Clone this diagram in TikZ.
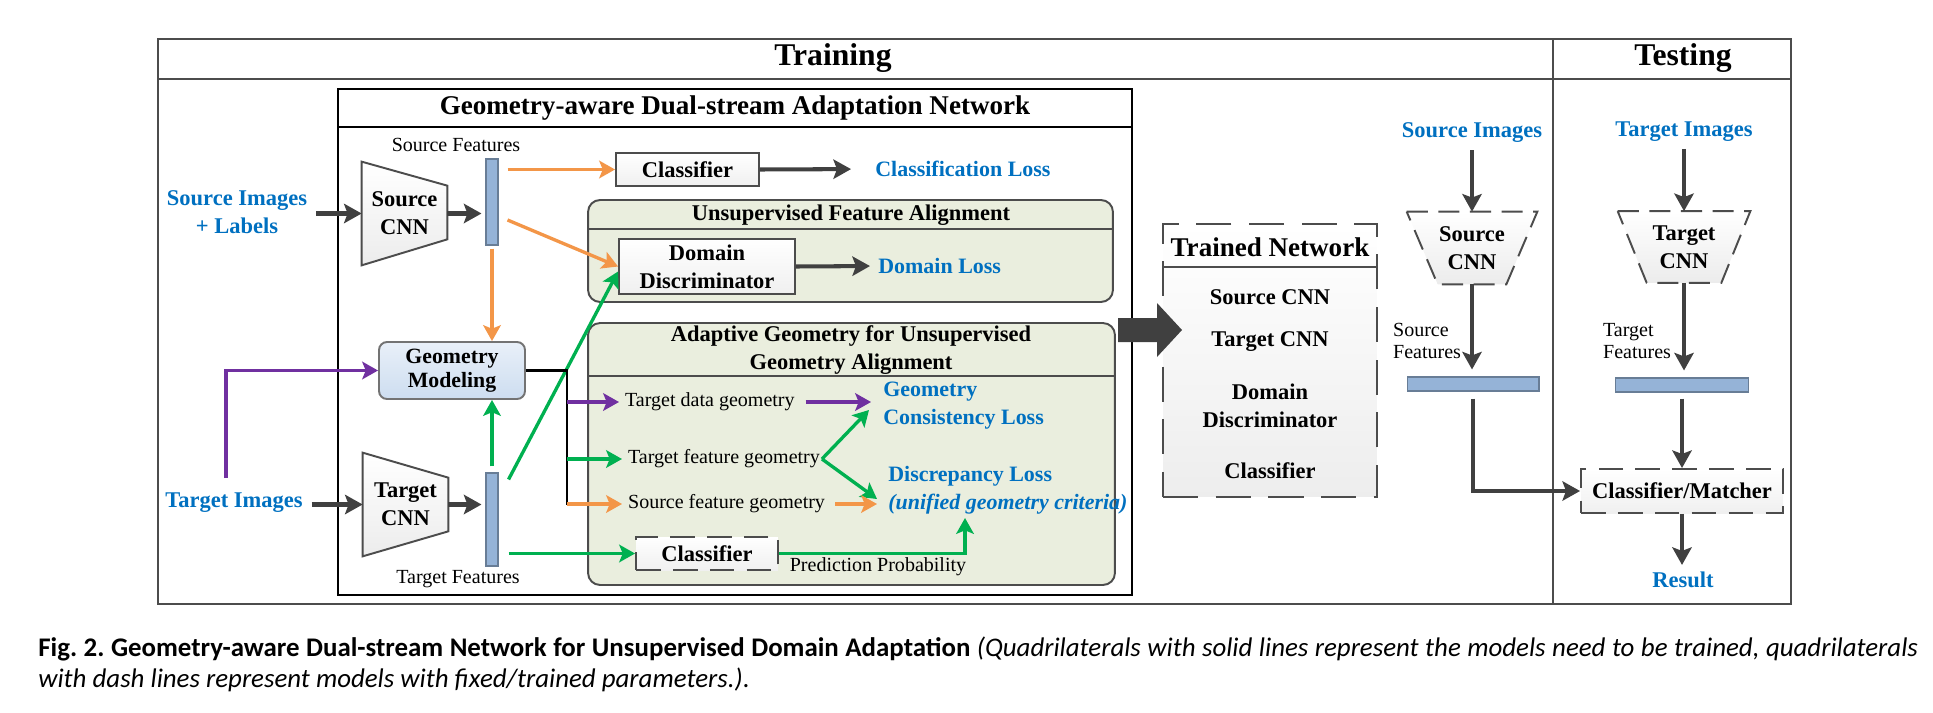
\documentclass[tikz,border=0pt]{standalone}
\usepackage{fontspec}
\setmainfont{Liberation Serif}
\newfontfamily\capfont{Carlito}
\usetikzlibrary{arrows.meta,positioning,calc,backgrounds}

\definecolor{lossblue}{RGB}{0,112,192}
\definecolor{arrorange}{RGB}{243,150,72}
\definecolor{arrgreen}{RGB}{0,176,80}
\definecolor{arrpurple}{RGB}{112,48,160}
\definecolor{darkarr}{RGB}{64,64,64}
\definecolor{barblue}{RGB}{149,179,215}
\definecolor{geoblue}{RGB}{205,221,240}
\definecolor{panelgreen}{RGB}{234,238,222}

\begin{document}
\begin{tikzpicture}[
  x=0.02cm, y=-0.02cm,
  hdr/.style={font=\fontsize{18}{21}\selectfont\bfseries},
  ttl/.style={font=\fontsize{15.4}{18}\selectfont\bfseries},
  ptitle/.style={font=\fontsize{12.8}{16.4}\selectfont\bfseries, align=center},
  boxtext/.style={font=\fontsize{12.8}{15.9}\selectfont\bfseries, align=center, inner sep=0pt},
  box/.style={boxtext, draw=black!70, line width=1.1pt, top color=white, bottom color=gray!12},
  fixedbox/.style={box, dash pattern=on 14pt off 7pt},
  cnn/.style={boxtext, minimum width=1.7cm, minimum height=2.06cm},
  cnnline/.style={draw=black!70, line width=1.1pt, top color=white, bottom color=gray!15},
  fixedcnn/.style={cnnline, dash pattern=on 12pt off 6pt},
  fbar/.style={draw=barblue!70!black, line width=0.6pt, fill=barblue, inner sep=0pt},
  panel/.style={draw=black!70, line width=1.1pt, fill=panelgreen, rounded corners=0.24cm, inner sep=0pt},
  geobox/.style={boxtext, draw=black!55, line width=1.1pt, top color=geoblue!45!white, bottom color=geoblue, rounded corners=0.16cm, font=\fontsize{12.4}{13.8}\selectfont\bfseries},
  lbl/.style={font=\fontsize{11.4}{13}\selectfont, inner sep=1pt},
  loss/.style={text=lossblue, font=\fontsize{12.5}{15.9}\selectfont\bfseries, align=left, inner sep=0pt},
  src/.style={text=lossblue, font=\fontsize{12.8}{15.9}\selectfont\bfseries, align=center, inner sep=1pt},
  frameline/.style={draw=black!70, line width=1.6pt},
  gdanline/.style={draw=black, line width=1.6pt},
  darr/.style={draw=darkarr, line width=2.3pt, -{Stealth[length=10pt, width=11pt, inset=2pt]}},
  oarr/.style={draw=arrorange, line width=1.9pt, -{Stealth[length=9pt, width=10pt, inset=2pt]}},
  garr/.style={draw=arrgreen, line width=1.9pt, -{Stealth[length=9pt, width=10pt, inset=2pt]}},
  parr/.style={draw=arrpurple, line width=1.9pt, -{Stealth[length=9pt, width=10pt, inset=2pt]}},
  kline/.style={draw=black, line width=1.6pt},
  captxt/.style={font=\capfont\fontsize{15.3}{17.6}\selectfont\frenchspacing, text width=37.6cm, align=justify, inner sep=0pt}
]
\useasboundingbox (0,0) rectangle (1933,713);

% frames
\draw[frameline] (158,39) rectangle (1791,604);
\draw[frameline] (158,79) -- (1791,79);
\draw[frameline] (1553,39) -- (1553,604);
\node[hdr] (trainhd) at (833,58) {Training};
\node[hdr] (testhd) at (1683,58) {Testing};

\draw[gdanline] (338,89) rectangle (1132,595);
\draw[gdanline] (338,127) -- (1132,127);
\node[ttl] (gdanhd) at (735,108) {Geometry-aware Dual-stream Adaptation Network};

% inputs
\node[src] (simg) at (237,212) {Source Images\\+ Labels};
\node[src] (timg) at (234,503) {Target Images};

% source stream
\node[cnn] (scnn) at (404.5,213.5) {Source\\CNN};
\node[fbar, minimum width=0.24cm, minimum height=1.72cm] (sfeat) at (492,202) {};
\node[lbl] (sfeatlb) at (456,145) {Source Features};
\node[box, minimum width=2.86cm, minimum height=0.66cm] (scls) at (687.5,169.5) {Classifier};
\node[loss, anchor=west] (closs) at (875,169) {Classification Loss};

% feature alignment
\node[panel, minimum width=10.5cm, minimum height=2.04cm] (ufa) at (850.5,251) {};
\draw[draw=black!70, line width=1.1pt] ($(ufa.north west)+(0,30)$) -- ($(ufa.north east)+(0,30)$);
\node[ptitle] (ufahd) at (851,215) {Unsupervised Feature Alignment};
\node[box, minimum width=3.52cm, minimum height=1.1cm] (dd) at (707,266.5) {Domain\\Discriminator};
\node[loss, anchor=west] (dloss) at (878,266) {Domain Loss};

% geometry alignment
\node[panel, minimum width=10.54cm, minimum height=5.24cm] (agp) at (851.5,454) {};
\draw[draw=black!70, line width=1.1pt] ($(agp.north west)+(0,54)$) -- ($(agp.north east)+(0,54)$);
\node[ptitle] (agphd) at (851,350) {Adaptive Geometry for Unsupervised\\Geometry Alignment};
\node[geobox, minimum width=2.92cm, minimum height=1.14cm] (geo) at (452,370.5) {Geometry\\Modeling};

\node[lbl, anchor=west] (tdg) at (623,402) {Target data geometry};
\node[lbl, anchor=west] (tfg) at (626,459) {Target feature geometry};
\node[lbl, anchor=west] (sfg) at (626,504) {Source feature geometry};
\node[loss, anchor=west] (gcl) at (883,406) {Geometry\\Consistency Loss};
\node[loss, anchor=west] (dl) at (888,490) {Discrepancy Loss\\\textit{(unified geometry criteria)}};
\node[fixedbox, minimum width=2.84cm, minimum height=0.66cm] (tcls) at (707,553.5) {Classifier};
\node[lbl] (predlb) at (878,567) {Prediction Probability};
\coordinate (predin) at (965,518);
\coordinate (gbus) at (567,505);

% target stream
\node[cnn] (tcnn) at (405.5,504.5) {Target\\CNN};
\node[fbar, minimum width=0.24cm, minimum height=1.86cm] (tfeat) at (492,519.5) {};
\node[lbl] (tfeatlb) at (458,579) {Target Features};

% trained network
\node[box, minimum width=4.28cm, minimum height=5.46cm, dash pattern=on 20pt off 10pt, bottom color=gray!14] (trained) at (1270,360.5) {};
\draw[draw=black!70, line width=1.1pt] ($(trained.north west)+(0,44)$) -- ($(trained.north east)+(0,44)$);
\node[ttl] (trainedhd) at (1270,247) {Trained Network};
\node[boxtext] (trsrc) at (1270,297) {Source CNN};
\node[boxtext] (trtgt) at (1270,342) {Target CNN};
\node[boxtext] (trdd) at (1270,406) {Domain\\Discriminator};
\node[boxtext] (trcls) at (1270,471) {Classifier};
\coordinate (bigtail) at (1118,330);
\fill[darkarr] (bigtail) ++(0,-12) -- ++(39,0) -- ++(0,-15) -- ++(25,27) -- ++(-25,27) -- ++(0,-15) -- ++(-39,0) -- cycle;

% source test branch
\node[src] (simg2) at (1472,133) {Source Images};
\node[cnn, minimum width=2.6cm, minimum height=1.44cm] (scnn2) at (1472,248) {Source\\CNN};
\node[fbar, minimum width=2.64cm, minimum height=0.28cm] (sfeat2) at (1473,384) {};
\node[lbl, anchor=west, align=left] (sfeat2lb) at (1391,341) {Source\\Features};

% testing column
\node[src] (timg2) at (1684,132) {Target Images};
\node[cnn, minimum width=2.64cm, minimum height=1.42cm] (tcnn2) at (1684,247) {Target\\CNN};
\node[fbar, minimum width=2.66cm, minimum height=0.28cm] (tfeat2) at (1682,385) {};
\node[lbl, anchor=west, align=left] (tfeat2lb) at (1601,341) {Target\\Features};
\node[fixedbox, minimum width=4.04cm, minimum height=0.88cm] (cm) at (1682,491) {Classifier/Matcher};
\node[src] (result) at (1683,580) {Result};

% cnn outlines
\begin{scope}[on background layer]
\draw[cnnline] (scnn.north west) -- ($(scnn.north east)+(0,24)$) -- ($(scnn.south east)+(0,-26)$) -- (scnn.south west) -- cycle;
\draw[cnnline] (tcnn.north west) -- ($(tcnn.north east)+(0,25)$) -- ($(tcnn.south east)+(0,-25)$) -- (tcnn.south west) -- cycle;
\draw[fixedcnn] (scnn2.north west) -- (scnn2.north east) -- ($(scnn2.south east)+(-31,0)$) -- ($(scnn2.south west)+(31,0)$) -- cycle;
\draw[fixedcnn] (tcnn2.north west) -- (tcnn2.north east) -- ($(tcnn2.south east)+(-29,0)$) -- ($(tcnn2.south west)+(29,0)$) -- cycle;
\end{scope}

% connectors
\draw[darr, shorten <=0.14cm] (simg.east |- scnn.west) -- (scnn.west);
\draw[darr, shorten >=0.08cm] (scnn.east) -- (scnn.east -| sfeat.west);
\draw[darr, shorten <=0.14cm] (timg.east |- tcnn.west) -- (tcnn.west);
\draw[darr, shorten >=0.08cm] (tcnn.east) -- (tcnn.east -| tfeat.west);
\draw[darr, shorten >=0.48cm] (scls.east) -- (closs.west);
\draw[darr, shorten >=0.16cm] (dd.east) -- (dloss.west);

\draw[oarr, shorten <=0.18cm] (sfeat.east |- scls.west) -- (scls.west);
\draw[oarr] ($(sfeat.east)+(9,18)$) -- (dd.west);
\draw[oarr, shorten <=0.06cm] (sfeat.south) -- (sfeat.south |- geo.north);

\draw[garr, shorten <=0.12cm] (tfeat.north) -- (tfeat.north |- geo.south);
\draw[garr] ($(tfeat.north east)+(10,7)$) -- ([yshift=-0.1cm]dd.west);
\draw[garr, shorten <=0.2cm] (tfeat.east |- tcls.west) -- (tcls.west);
\draw[garr] (tcls.east) -| (predin);

\draw[parr] ([xshift=-0.16cm, yshift=0.26cm]timg.north) |- (geo.west);
\draw[kline] (geo.east) -| (gbus);
\draw[parr, shorten >=0.08cm] (gbus |- tdg.west) -- (tdg.west);
\draw[garr, shorten >=0.08cm] (gbus |- tfg.west) -- (tfg.west);
\draw[oarr, shorten >=0.08cm] (gbus |- sfg.west) -- (sfg.west);

\draw[parr, shorten <=0.18cm, shorten >=0.24cm] (tdg.east) -- (tdg.east -| gcl.west);
\draw[garr] (tfg.east) -- ($(gcl.west)+(-14,4)$);
\draw[garr] (tfg.east) -- ($(dl.west)+(-11,9)$);
\draw[oarr, shorten <=0.16cm, shorten >=0.22cm] (sfg.east) -- (sfg.east -| dl.west);

\draw[darr, shorten <=0.1cm] (simg2.south) -- (simg2.south |- scnn2.north);
\draw[darr, shorten >=0.14cm] (scnn2.south) -- (scnn2.south |- sfeat2.north);
\draw[darr, shorten <=0.14cm] (sfeat2.south) |- (cm.west);
\draw[darr, shorten <=0.1cm] (timg2.south) -- (timg2.south |- tcnn2.north);
\draw[darr, shorten >=0.14cm] (tcnn2.south) -- (tcnn2.south |- tfeat2.north);
\draw[darr, shorten <=0.12cm] (tfeat2.south) -- (tfeat2.south |- cm.north);
\draw[darr, shorten >=0.1cm] (cm.south) -- (cm.south |- result.north);

% caption
\node[captxt, anchor=north west] (cap) at (38,637) {\textbf{Fig. 2. Geometry-aware Dual-stream Network for Unsupervised Domain Adaptation} \textit{(Quadrilaterals with solid lines represent the models need to be trained, quadrilaterals\linebreak with dash lines represent models with fixed/trained parameters.)}.};
\end{tikzpicture}
\end{document}
